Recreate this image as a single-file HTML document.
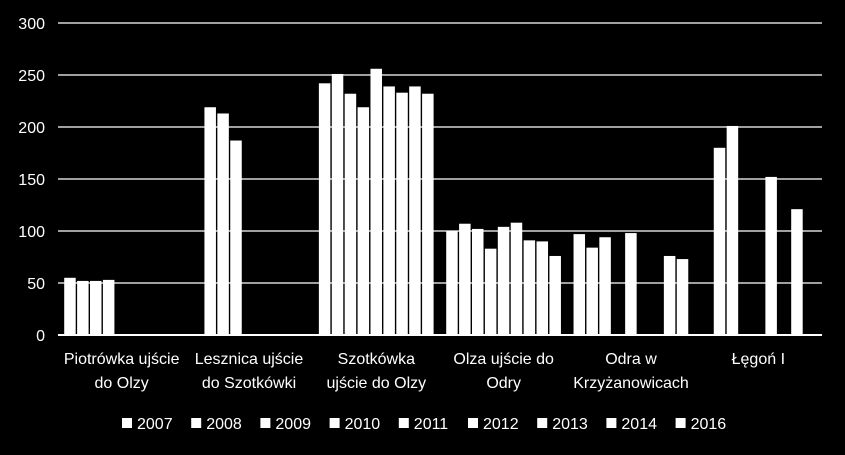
<!DOCTYPE html>
<html><head><meta charset="utf-8"><style>
html,body{margin:0;padding:0;background:#000;}
svg{display:block;font-family:"Liberation Sans",sans-serif;}
</style></head><body>
<svg id="chart" width="845" height="455"></svg>
<script>
const categories=[["Piotrówka ujście","do Olzy"],["Lesznica ujście","do Szotkówki"],["Szotkówka","ujście do Olzy"],["Olza ujście do","Odry"],["Odra w","Krzyżanowicach"],["Łęgoń I",""]];
const seriesNames=["2007","2008","2009","2010","2011","2012","2013","2014","2016"];
const s2007=[55,null,242,100,97,null];
const s2008=[52,219,251,107,84,180];
const s2009=[52,213,232,102,94,201];
const s2010=[53,187,219,83,null,null];
const s2011=[null,null,256,104,98,null];
const s2012=[null,null,239,108,null,152];
const s2013=[null,null,233,91,null,null];
const s2014=[null,null,239,90,76,121];
const s2016=[null,null,232,76,73,null];
const series=[s2007,s2008,s2009,s2010,s2011,s2012,s2013,s2014,s2016];
const yTicks=[0,50,100,150,200,250,300];
const NS="http://www.w3.org/2000/svg";
const svg=document.getElementById("chart");
const L=58,R=822,T=23,B=335,yMax=300;
const y=v=>B-(v/yMax)*(B-T);
const gw=(R-L)/categories.length,pad=5.6,slot=(gw-2*pad)/seriesNames.length;
const x=(c,s)=>L+c*gw+pad+s*slot;
function mk(tag,attrs){const e=document.createElementNS(NS,tag);for(const k in attrs)e.setAttribute(k,attrs[k]);svg.appendChild(e);return e;}
yTicks.forEach(t=>{
  const l=mk("line",{x1:L,x2:R,y1:y(t),y2:y(t),stroke:"#fff","stroke-width":t===0?2:1.3});
  
  
  const tx=mk("text",{x:45,y:y(t)+6,fill:"#fff","font-size":16,"text-anchor":"end"});
  tx.textContent=t;
  
  
});
series.forEach((arr,s)=>{arr.forEach((v,c)=>{
  if(v==null)return;
  const r=mk("rect",{x:x(c,s)+0.6,y:y(v),width:slot-1.4,height:B-y(v),fill:"#fff"});
  
  
});});
categories.forEach((lines,c)=>{
  lines.forEach((ln,i)=>{
    const t=mk("text",{x:L+(c+0.5)*gw,y:364+i*24,fill:"#fff","font-size":16,"text-anchor":"middle"});
    t.textContent=ln;
    
    
  });
});
seriesNames.forEach((n,i)=>{
  const lx=122+i*69.2;
  const r=mk("rect",{x:lx,y:418,width:10,height:10,fill:"#fff"});
  
  
  const t=mk("text",{x:lx+15,y:429,fill:"#fff","font-size":16});
  t.textContent=n;
  
  
});
</script>
</body></html>
